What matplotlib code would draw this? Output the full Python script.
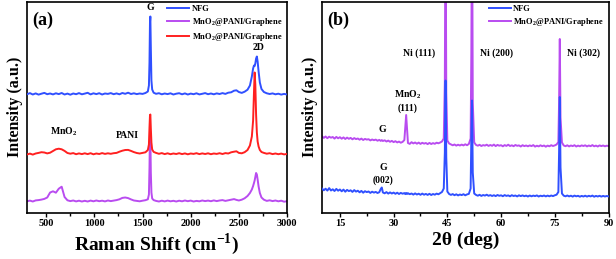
import matplotlib
matplotlib.use("Agg")
import matplotlib.pyplot as plt
from matplotlib.ticker import MultipleLocator

plt.rcParams['font.family'] = ['Liberation Serif', 'DejaVu Serif']
plt.rcParams['font.weight'] = 'bold'
plt.rcParams['mathtext.fontset'] = 'custom'
plt.rcParams['mathtext.rm'] = 'Liberation Serif:bold'
plt.rcParams['mathtext.bf'] = 'Liberation Serif:bold'

# ---------------- Raman data (panel a) ----------------
raman_shift = [
    300, 330, 360, 390, 420, 450, 480, 510, 540, 570,
    600, 630, 660, 690, 720, 750, 780, 810, 840, 870,
    900, 930, 960, 990, 1020, 1050, 1080, 1110, 1140, 1170,
    1200, 1230, 1260, 1290, 1320, 1350, 1380, 1410, 1440, 1470,
    1500, 1530, 1555, 1566, 1572, 1577, 1581, 1586, 1592, 1600,
    1615, 1640, 1670, 1700, 1730, 1760, 1790, 1820, 1850, 1880,
    1910, 1940, 1970, 2000, 2030, 2060, 2090, 2120, 2150, 2180,
    2210, 2240, 2270, 2300, 2330, 2360, 2390, 2420, 2450, 2475,
    2500, 2530, 2560, 2590, 2615, 2635, 2648, 2657, 2664, 2671,
    2679, 2687, 2695, 2705, 2718, 2735, 2760, 2790, 2820, 2850,
    2880, 2910, 2940, 2970, 3000,
]
raman_nfg = [
    118.2, 119.4, 118.0, 119.1, 117.9, 118.8, 119.6, 118.3, 119.0, 118.1,
    119.2, 118.4, 119.5, 118.0, 118.9, 117.8, 119.0, 118.3, 119.4, 118.2,
    118.9, 119.7, 118.1, 119.2, 118.4, 119.3, 118.0, 119.0, 118.6, 119.4,
    118.3, 119.1, 118.2, 119.5, 118.7, 119.8, 118.5, 119.2, 118.4, 119.0,
    118.6, 119.5, 121.0, 127.0, 150.0, 190.0, 196.0, 165.0, 132.0, 123.0,
    119.8, 118.7, 119.3, 118.2, 119.0, 118.4, 119.2, 118.0, 118.8, 119.3,
    118.2, 119.1, 118.0, 118.9, 118.3, 119.2, 118.1, 118.7, 119.4, 118.3,
    119.0, 118.2, 119.1, 118.5, 119.4, 118.6, 119.8, 120.2, 121.8, 122.2,
    120.5, 119.6, 120.8, 122.8, 127.0, 136.0, 144.0, 147.0, 146.5, 149.0,
    154.0, 156.0, 151.0, 141.0, 130.0, 123.5, 120.5, 119.2, 118.5, 119.1,
    118.2, 118.8, 117.9, 118.6, 118.0,
]
raman_red = [
    58.0, 58.9, 57.9, 59.0, 59.6, 60.3, 60.0, 59.1, 59.8, 61.5,
    63.2, 63.8, 63.2, 61.6, 59.5, 58.8, 59.4, 58.3, 59.1, 58.4,
    59.2, 58.4, 59.3, 58.2, 59.0, 58.5, 59.4, 58.6, 59.2, 58.7,
    59.3, 59.6, 60.8, 61.8, 62.5, 62.6, 61.6, 60.4, 59.5, 59.0,
    59.6, 60.2, 62.5, 68.0, 85.0, 97.0, 98.0, 84.0, 70.0, 63.0,
    60.6, 59.6, 58.7, 59.4, 58.4, 59.2, 58.3, 59.0, 58.5, 59.3,
    58.4, 59.1, 58.2, 59.0, 58.6, 59.3, 58.4, 59.1, 58.5, 59.2,
    58.3, 59.0, 58.6, 59.3, 58.5, 59.4, 59.0, 60.2, 60.8, 61.2,
    59.6, 59.2, 60.3, 62.5, 67.0, 76.0, 92.0, 120.0, 140.0, 128.0,
    98.0, 80.0, 71.0, 66.0, 62.5, 60.5, 59.6, 58.8, 59.3, 58.4,
    59.0, 58.3, 58.9, 58.1, 58.6,
]
raman_purple = [
    11.2, 11.9, 11.0, 12.1, 12.4, 12.9, 13.6, 15.0, 20.0, 21.2,
    19.8, 23.8, 25.8, 15.5, 12.2, 11.4, 12.0, 11.1, 11.8, 11.0,
    11.7, 11.0, 11.9, 11.2, 12.0, 11.3, 11.8, 11.1, 12.0, 11.4,
    11.9, 12.4, 13.2, 14.6, 15.0, 14.4, 13.1, 12.0, 11.6, 11.2,
    11.8, 12.3, 13.2, 18.0, 45.0, 80.0, 76.0, 40.0, 20.0, 14.0,
    12.4, 11.6, 11.0, 11.8, 11.1, 11.9, 11.2, 11.7, 11.0, 11.8,
    11.2, 12.0, 11.3, 11.9, 11.0, 11.6, 11.2, 12.0, 11.4, 11.9,
    11.3, 12.1, 11.4, 12.0, 12.4, 11.6, 12.2, 12.8, 13.4, 12.6,
    12.0, 12.8, 14.2, 16.5, 19.5, 23.0, 26.5, 29.5, 32.0, 35.5,
    39.5, 38.0, 33.0, 26.0, 19.5, 15.0, 12.8, 11.6, 12.2, 11.4,
    12.0, 11.2, 11.8, 10.8, 11.3,
]

# ---------------- XRD data (panel b) ----------------
two_theta = [
    10.0, 10.5, 11.0, 11.5, 12.0, 12.5, 13.0, 13.5, 14.0, 14.5,
    15.0, 15.5, 16.0, 16.5, 17.0, 17.5, 18.0, 18.5, 19.0, 19.5,
    20.0, 20.5, 21.0, 21.5, 22.0, 22.5, 23.0, 23.5, 24.0, 24.5,
    25.0, 25.5, 26.0, 26.4, 26.7, 27.0, 27.5, 28.0, 28.5, 29.0, 29.5,
    30.0, 30.5, 31.0, 31.5, 32.0, 32.5, 33.0, 33.25, 33.5, 33.75, 34.0, 34.5,
    35.0, 35.5, 36.0, 36.5, 37.0, 37.5, 38.0, 38.5, 39.0, 39.5,
    40.0, 40.5, 41.0, 41.5, 42.0, 42.5, 43.0, 43.5, 44.0, 44.3, 44.5, 44.7, 45.0, 45.5,
    46.0, 46.5, 47.0, 47.5, 48.0, 48.5, 49.0, 49.5, 50.0, 50.5, 51.0, 51.5, 51.7, 51.9, 52.1, 52.5,
    53.0, 53.5, 54.0, 54.5, 55.0, 55.5, 56.0, 56.5, 57.0, 57.5,
    58.0, 58.5, 59.0, 59.5, 60.0, 60.5, 61.0, 61.5, 62.0, 62.5,
    63.0, 63.5, 64.0, 64.5, 65.0, 65.5, 66.0, 66.5, 67.0, 67.5,
    68.0, 68.5, 69.0, 69.5, 70.0, 70.5, 71.0, 71.5, 72.0, 72.5,
    73.0, 73.5, 74.0, 74.5, 75.0, 75.5, 76.0, 76.2, 76.4, 76.6, 77.0, 77.5,
    78.0, 78.5, 79.0, 79.5, 80.0, 80.5, 81.0, 81.5, 82.0, 82.5,
    83.0, 83.5, 84.0, 84.5, 85.0, 85.5, 86.0, 86.5, 87.0, 87.5,
    88.0, 88.5, 89.0, 89.5, 90.0,
]
xrd_nfg = [
    24.0, 22.2, 23.8, 21.9, 24.4, 22.0, 23.2, 21.5, 23.6, 21.8,
    23.0, 21.2, 22.9, 20.8, 22.6, 21.4, 22.2, 20.6, 22.4, 20.9,
    21.8, 20.2, 21.6, 19.8, 21.3, 20.4, 21.0, 19.6, 20.8, 19.9,
    20.6, 19.5, 20.3, 23.5, 25.0, 20.0, 19.2, 20.4, 18.9, 20.1, 19.0,
    19.9, 18.7, 19.8, 18.5, 19.6, 18.8, 19.4, 18.4, 19.5, 18.6, 19.3, 18.3,
    19.0, 17.9, 19.1, 18.0, 18.8, 17.7, 18.9, 17.8, 18.6, 17.6,
    18.7, 17.5, 18.5, 17.8, 18.9, 18.2, 19.3, 20.5, 24.0, 60.0, 132.0, 55.0, 21.0, 18.5,
    17.6, 18.4, 17.3, 18.2, 17.1, 18.0, 17.4, 18.3, 17.2, 18.1, 18.6, 24.0, 75.0, 112.0, 40.0, 19.0,
    17.6, 16.8, 17.7, 16.6, 17.5, 16.9, 17.8, 16.7, 17.4, 16.5,
    17.3, 16.4, 17.5, 16.7, 17.2, 16.3, 17.4, 16.6, 17.1, 16.2,
    17.3, 16.5, 17.0, 16.1, 17.2, 16.4, 17.1, 16.3, 16.9, 16.0,
    17.0, 16.2, 16.9, 16.4, 17.1, 16.0, 16.8, 16.3, 17.0, 16.1,
    16.9, 16.2, 17.0, 16.4, 17.2, 17.8, 20.5, 60.0, 115.5, 45.0, 19.0, 16.8,
    16.2, 17.0, 16.1, 16.8, 15.9, 16.9, 16.2, 16.7, 15.8, 16.6,
    16.0, 16.8, 15.9, 16.7, 16.1, 16.9, 15.8, 16.6, 16.0, 16.7,
    15.9, 16.6, 16.0, 16.5, 16.1,
]
xrd_purple = [
    76.2, 74.6, 76.0, 74.3, 75.8, 74.8, 75.5, 73.9, 75.6, 74.2,
    75.3, 73.8, 75.1, 73.5, 74.9, 73.7, 74.6, 73.2, 74.4, 73.4,
    74.0, 72.8, 73.9, 72.5, 73.6, 72.9, 73.3, 72.1, 73.0, 72.3,
    72.9, 71.8, 72.6, 71.6, 72.4, 71.5, 72.2, 71.0, 71.9, 70.7, 71.6,
    70.4, 71.3, 70.1, 70.9, 69.8, 70.6, 72.5, 85.0, 97.5, 84.0, 69.5, 68.6,
    70.3, 69.1, 70.0, 68.8, 69.9, 68.6, 69.7, 68.9, 69.5, 68.4,
    69.6, 68.5, 69.4, 68.7, 69.8, 69.2, 70.0, 71.0, 74.0, 130.0, 320.0, 120.0, 72.0, 69.0,
    68.1, 67.2, 68.0, 66.9, 67.8, 67.0, 67.9, 67.1, 68.2, 67.3, 68.5, 74.0, 160.0, 320.0, 110.0, 70.0,
    67.6, 66.8, 67.7, 66.5, 67.4, 66.9, 67.8, 66.6, 67.5, 66.7,
    67.9, 66.4, 67.6, 66.8, 67.3, 66.2, 67.4, 66.6, 67.8, 66.5,
    67.2, 66.3, 67.5, 66.7, 67.1, 66.0, 67.3, 66.4, 67.0, 66.2,
    67.1, 66.4, 67.4, 65.9, 66.8, 66.1, 67.2, 66.3, 67.0, 65.8,
    66.9, 66.2, 67.3, 66.5, 67.1, 68.0, 70.5, 110.0, 173.5, 95.0, 70.0, 67.0,
    66.3, 67.2, 66.1, 67.0, 66.4, 67.3, 66.0, 66.9, 66.2, 67.1,
    66.5, 67.2, 66.1, 67.0, 66.3, 67.4, 66.2, 66.9, 66.0, 67.1,
    66.4, 67.0, 66.2, 66.8, 66.5,
]

c_blue = '#3050ff'
c_purple = '#b94cf0'
c_red = '#ff2020'
lw = 1.4

fig = plt.figure(figsize=(6.16, 2.59), dpi=100)
axa = fig.add_axes([27/616, 1-212.5/259, 260/616, 210.5/259])
axb = fig.add_axes([322/616, 1-212.5/259, 286.5/616, 210.5/259])

# Panel a
la_nfg, = axa.plot(raman_shift, raman_nfg, color=c_blue, lw=lw, zorder=3)
la_pur, = axa.plot(raman_shift, raman_purple, color=c_purple, lw=lw, zorder=2)
la_red, = axa.plot(raman_shift, raman_red, color=c_red, lw=lw, zorder=3)
axa.set_xlim(300, 3000)
axa.set_ylim(0, 210.5)
axa.xaxis.set_major_locator(MultipleLocator(500))
axa.xaxis.set_minor_locator(MultipleLocator(250))
axa.set_yticks([])
axa.set_xlabel('Raman Shift (cm$^{-1}$)', fontsize=14, fontweight='bold', labelpad=2)
axa.set_ylabel('Intensity (a.u.)', fontsize=11.5, fontweight='bold', labelpad=3)
axa.legend([la_nfg, la_pur, la_red],
           ['NFG', 'MnO$_2$@PANI/Graphene', 'MnO$_2$@PANI/Graphene'],
           loc='upper right', bbox_to_anchor=(1.0, 1.01), frameon=False,
           fontsize=6, handlelength=2.6, handletextpad=0.3, labelspacing=0.35,
           borderaxespad=0.2)
axa.text(1585, 204.5, 'G', fontsize=7, ha='center', va='center')
axa.text(2700, 165.5, '2D', fontsize=7, ha='center', va='center')
axa.text(685, 80.5, 'MnO$_2$', fontsize=7, ha='center', va='center')
axa.text(1345, 77, 'PANI', fontsize=7, ha='center', va='center')
axa.text(0.02, 0.915, '(a)', transform=axa.transAxes, fontsize=13, ha='left', va='center')

# Panel b
lb_nfg, = axb.plot(two_theta, xrd_nfg, color=c_blue, lw=lw, zorder=3)
lb_pur, = axb.plot(two_theta, xrd_purple, color=c_purple, lw=lw, zorder=2)
axb.set_xlim(10, 90)
axb.set_ylim(0, 210.5)
axb.xaxis.set_major_locator(MultipleLocator(15))
axb.xaxis.set_minor_locator(MultipleLocator(7.5))
axb.set_yticks([])
axb.set_xlabel('2θ (deg)', fontsize=14, fontweight='bold', labelpad=2)
axb.set_ylabel('Intensity (a.u.)', fontsize=11.5, fontweight='bold', labelpad=3)
axb.legend([lb_nfg, lb_pur], ['NFG', 'MnO$_2$@PANI/Graphene'],
           loc='upper right', bbox_to_anchor=(1.0, 1.01), frameon=False,
           fontsize=6, handlelength=2.6, handletextpad=0.3, labelspacing=0.35,
           borderaxespad=0.2)
axb.text(37.1, 159.5, 'Ni (111)', fontsize=7, ha='center', va='center')
axb.text(58.6, 159.5, 'Ni (200)', fontsize=7, ha='center', va='center')
axb.text(82.9, 159.5, 'Ni (302)', fontsize=7, ha='center', va='center')
axb.text(34.0, 117.5, 'MnO$_2$', fontsize=7, ha='center', va='center')
axb.text(34.0, 104.5, '(111)', fontsize=7, ha='center', va='center')
axb.text(26.8, 83.5, 'G', fontsize=7, ha='center', va='center')
axb.text(27.1, 45.5, 'G', fontsize=7, ha='center', va='center')
axb.text(27.1, 32.5, '(002)', fontsize=7, ha='center', va='center')
axb.text(0.02, 0.915, '(b)', transform=axb.transAxes, fontsize=13, ha='left', va='center')

for ax in (axa, axb):
    for s in ax.spines.values():
        s.set_linewidth(1.2)
    ax.tick_params(axis='x', which='major', direction='out', length=3, width=1,
                   labelsize=7.5, pad=2)
    ax.tick_params(axis='x', which='minor', direction='out', length=2, width=1)
    for lab in ax.get_xticklabels():
        lab.set_fontweight('bold')

fig.savefig('out.png', dpi=100)
